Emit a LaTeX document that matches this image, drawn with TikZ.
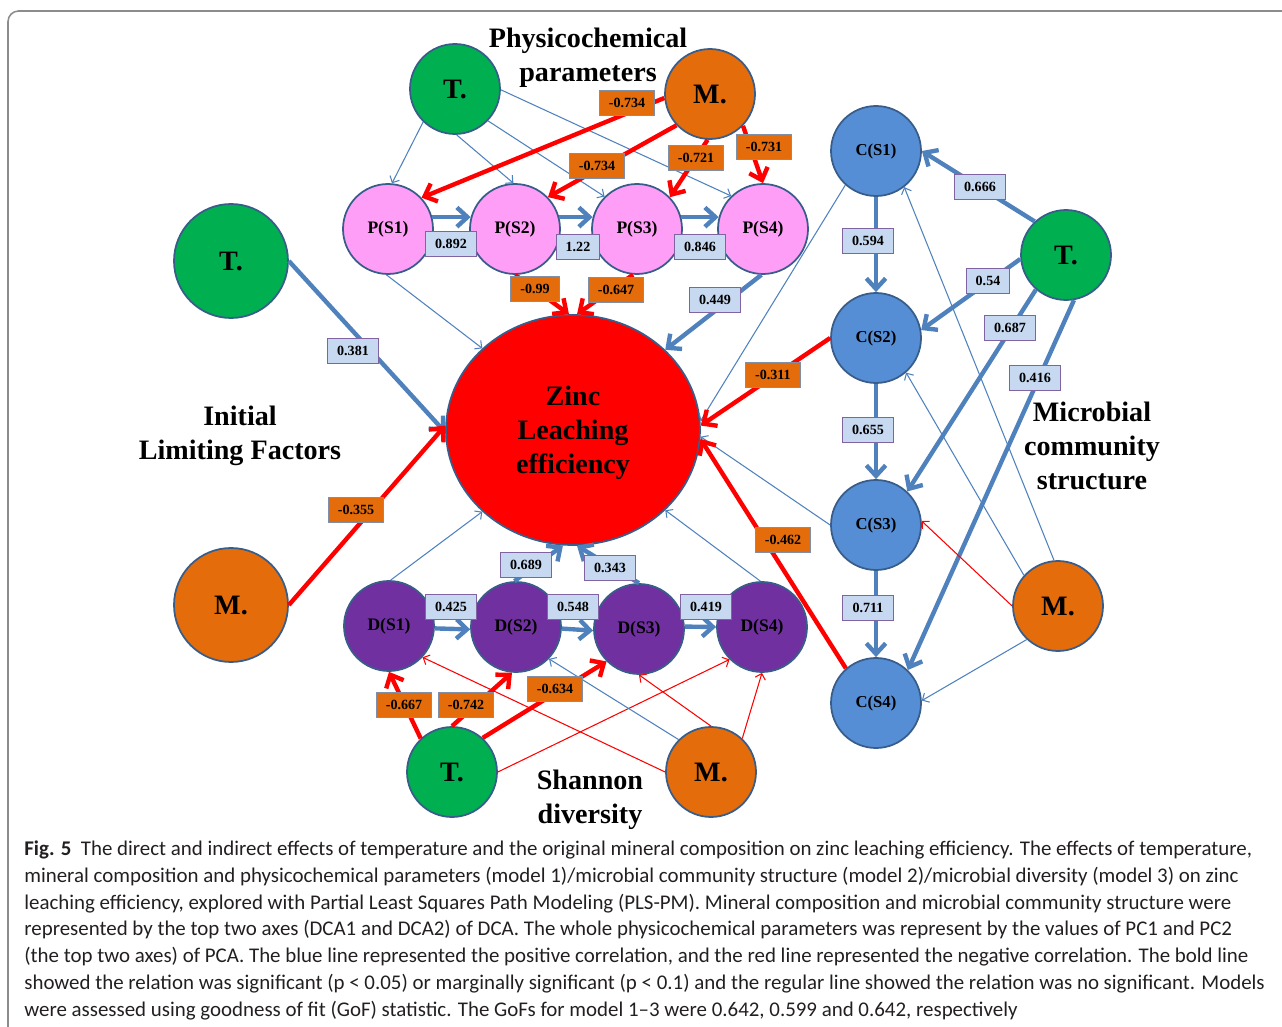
\documentclass[tikz,border=0pt]{standalone}
\usepackage{fontspec}
\setmainfont{Liberation Serif}
\newfontfamily\capfont{Carlito}
\usetikzlibrary{arrows.meta,shapes.geometric}
\definecolor{tgreen}{HTML}{00B050}
\definecolor{morange}{HTML}{E46C0A}
\definecolor{ppink}{HTML}{FF9EF7}
\definecolor{cblue}{HTML}{558ED5}
\definecolor{dpurple}{HTML}{7030A0}
\definecolor{rimblue}{HTML}{385D8A}
\definecolor{posline}{HTML}{4F81BD}
\definecolor{boxblue}{HTML}{C6D9F1}
\definecolor{boxrim}{HTML}{8064A2}
\definecolor{negrim}{HTML}{7F8FA8}
\definecolor{framegray}{HTML}{8C8C8C}
\definecolor{captext}{HTML}{231F20}
\begin{document}
\begin{tikzpicture}[x=0.02cm,y=-0.02cm]
\tikzstyle{every node}+=[inner sep=0pt]
\tikzstyle{var}=[circle,draw=rimblue,line width=1pt,minimum size=1.8cm,font=\bfseries\fontsize{10}{12}\selectfont]
\tikzstyle{tvar}=[var,fill=tgreen,font=\bfseries\fontsize{16}{19}\selectfont]
\tikzstyle{mvar}=[var,fill=morange,font=\bfseries\fontsize{16}{19}\selectfont]
\tikzstyle{pvar}=[var,fill=ppink]
\tikzstyle{cvar}=[var,fill=cblue,font=\bfseries\fontsize{9.5}{11}\selectfont]
\tikzstyle{dvar}=[var,fill=dpurple]
\tikzstyle{zinc}=[ellipse,draw=rimblue,line width=1pt,fill=red,minimum width=5.08cm,minimum height=4.6cm]
\tikzstyle{posbold}=[posline,line width=2.5pt,-{Straight Barb[length=6pt,width=11pt]}]
\tikzstyle{negbold}=[red,line width=2.5pt,-{Straight Barb[length=6pt,width=11pt]}]
\tikzstyle{posthin}=[posline,line width=0.6pt,-{Straight Barb[length=3pt,width=6pt]}]
\tikzstyle{negthin}=[red,line width=0.6pt,-{Straight Barb[length=3pt,width=6pt]}]
\tikzstyle{posbox}=[draw=boxrim,fill=boxblue,line width=0.6pt,inner xsep=5.5pt,minimum height=14.5pt,font=\bfseries\fontsize{8}{9}\selectfont]
\tikzstyle{negbox}=[posbox,draw=negrim,fill=morange]
\tikzstyle{title}=[align=center,font=\bfseries\fontsize{16}{19.3}\selectfont]
\tikzstyle{capline}=[anchor=base west,text=captext,font=\capfont\fontsize{11.9}{14}\selectfont]
\useasboundingbox (0,0) rectangle (1282,1027);
\draw [framegray,line width=0.9pt,rounded corners=6pt] (1282,11) -- (8,11) -- (8,1027);
\node [tvar] (T1) at (455,89) {T.};
\node [mvar] (M1) at (710,94) {M.};
\node [pvar] (P1) at (388,229) {P(S1)};
\node [pvar] (P2) at (515,229) {P(S2)};
\node [pvar] (P3) at (637,229) {P(S3)};
\node [pvar] (P4) at (763,229) {P(S4)};
\node [tvar,minimum size=2.28cm] (T0) at (231,261) {T.};
\node [mvar,minimum size=2.28cm] (M0) at (231,605) {M.};
\node [zinc] (Zn) at (573,430) {};
\node [title] (zntext) at (573,433) {Zinc\\Leaching\\efficiency};
\node [cvar] (C1) at (876,151) {C(S1)};
\node [cvar] (C2) at (876,338) {C(S2)};
\node [cvar] (C3) at (876,525) {C(S3)};
\node [cvar] (C4) at (876,703) {C(S4)};
\node [tvar] (T2) at (1066,255) {T.};
\node [mvar] (M2) at (1058,606) {M.};
\node [dvar] (D1) at (389,626) {D(S1)};
\node [dvar] (D2) at (516,627) {D(S2)};
\node [dvar] (D3) at (639,629) {D(S3)};
\node [dvar] (D4) at (762,627) {D(S4)};
\node [tvar] (T3) at (452,772) {T.};
\node [mvar] (M3) at (711,772) {M.};
\node [title] (phys) at (588,58) {Physicochemical\\parameters};
\node [title] (init) at (240,436) {Initial\\Limiting Factors};
\node [title] (micro) at (1092,446) {Microbial\\community\\structure};
\node [title] (shan) at (590,800) {Shannon\\diversity};
\draw [posthin] (T1.226) -- (P1.85);
\draw [posthin] (T1.272) -- (P2.92);
\draw [posthin] (T1.316) -- (P3.135);
\draw [posthin] (T1.359) -- (P4.134);
\draw [negbold] (M1.185) -- (P1.43);
\draw [negbold] (M1.223) -- (P2.44);
\draw [negbold] (M1.267) -- (P3.44);
\draw [negbold] (M1.316) -- (P4.90);
\draw [posbold] (P1.15) -- (P2.165);
\draw [posbold] (P2.15) -- (P3.165);
\draw [posbold] (P3.15) -- (P4.165);
\draw [posthin] (P1.268) -- (Zn.138);
\draw [negbold] (P2.270) -- (Zn.92);
\draw [negbold] (P3.265) -- (Zn.88);
\draw [posbold] (P4.268) -- (Zn.41);
\draw [posbold] (T0.0) -- (Zn.181);
\draw [negbold] (M0.0) -- (Zn.178);
\draw [posbold] (C1.270) -- (C2.90);
\draw [posbold] (C2.270) -- (C3.90);
\draw [posbold] (C3.270) -- (C4.90);
\draw [posbold] (T2.133) -- (C1.0);
\draw [posbold] (T2.185) -- (C2.10);
\draw [posbold] (T2.229) -- (C3.47);
\draw [posbold] (T2.280) -- (C4.46);
\draw [posthin] (M2.95) -- (C1.308);
\draw [posthin] (M2.138) -- (C2.311);
\draw [negthin] (M2.180) -- (C3.5);
\draw [posthin] (M2.227) -- (C4.3);
\draw [posthin] (C1.228) -- (Zn.4);
\draw [negbold] (C2.180) -- (Zn.2);
\draw [posthin] (C3.180) -- (Zn.357);
\draw [negbold] (C4.131) -- (Zn.356);
\draw [posbold] (D1.357) -- (D2.183);
\draw [posbold] (D2.358) -- (D3.182);
\draw [posbold] (D3.3) -- (D4.180);
\draw [posthin] (D1.88) -- (Zn.222);
\draw [posbold] (D2.92) -- (Zn.265);
\draw [posbold] (D3.90) -- (Zn.272);
\draw [posthin] (D4.92) -- (Zn.319);
\draw [negbold] (T3.133) -- (D1.270);
\draw [negbold] (T3.90) -- (D2.265);
\draw [negbold] (T3.48) -- (D3.225);
\draw [negthin] (T3.0) -- (D4.225);
\draw [negthin] (M3.180) -- (D1.317);
\draw [posthin] (M3.135) -- (D2.316);
\draw [negthin] (M3.90) -- (D3.270);
\draw [negthin] (M3.47) -- (D4.270);
\node [negbox] (w1) at (627,103) {-0.734};
\node [negbox] (w2) at (597,166) {-0.734};
\node [negbox] (w3) at (696,158) {-0.721};
\node [negbox] (w4) at (764,147) {-0.731};
\node [posbox] (w5) at (451,244) {0.892};
\node [posbox] (w6) at (578,247) {1.22};
\node [posbox] (w7) at (700,247) {0.846};
\node [negbox] (w8) at (535,289) {-0.99};
\node [negbox] (w9) at (616,290) {-0.647};
\node [posbox] (w10) at (715,300) {0.449};
\node [posbox] (w11) at (353,351) {0.381};
\node [negbox] (w12) at (356,510) {-0.355};
\node [posbox] (w13) at (868,241) {0.594};
\node [posbox] (w14) at (868,430) {0.655};
\node [posbox] (w15) at (868,608) {0.711};
\node [posbox] (w16) at (980,187) {0.666};
\node [posbox] (w17) at (988,281) {0.54};
\node [posbox] (w18) at (1010,328) {0.687};
\node [posbox] (w19) at (1035,378) {0.416};
\node [negbox] (w20) at (773,375) {-0.311};
\node [negbox] (w21) at (783,540) {-0.462};
\node [posbox] (w22) at (451,607) {0.425};
\node [posbox] (w23) at (573,607) {0.548};
\node [posbox] (w24) at (706,607) {0.419};
\node [posbox] (w25) at (526,565) {0.689};
\node [posbox] (w26) at (610,568) {0.343};
\node [negbox] (w27) at (404,705) {-0.667};
\node [negbox] (w28) at (466,705) {-0.742};
\node [negbox] (w29) at (555,689) {-0.634};
\node [capline] (cap1) at (24,855) {\textbf{Fig. 5}\hspace{0.45em}The direct and indirect effects of temperature and the original mineral composition on zinc leaching efficiency. The effects of temperature,};
\node [capline] (cap2) at (24,882) {mineral composition and physicochemical parameters (model 1)/microbial community structure (model 2)/microbial diversity (model 3) on zinc};
\node [capline] (cap3) at (24,909) {leaching efficiency, explored with Partial Least Squares Path Modeling (PLS-PM). Mineral composition and microbial community structure were};
\node [capline] (cap4) at (24,935) {represented by the top two axes (DCA1 and DCA2) of DCA. The whole physicochemical parameters was represent by the values of PC1 and PC2};
\node [capline] (cap5) at (24,962) {(the top two axes) of PCA. The blue line represented the positive correlation, and the red line represented the negative correlation. The bold line};
\node [capline] (cap6) at (24,989) {showed the relation was significant (p < 0.05) or marginally significant (p < 0.1) and the regular line showed the relation was no significant. Models};
\node [capline] (cap7) at (24,1016) {were assessed using goodness of fit (GoF) statistic. The GoFs for model 1–3 were 0.642, 0.599 and 0.642, respectively};
\end{tikzpicture}
\end{document}
